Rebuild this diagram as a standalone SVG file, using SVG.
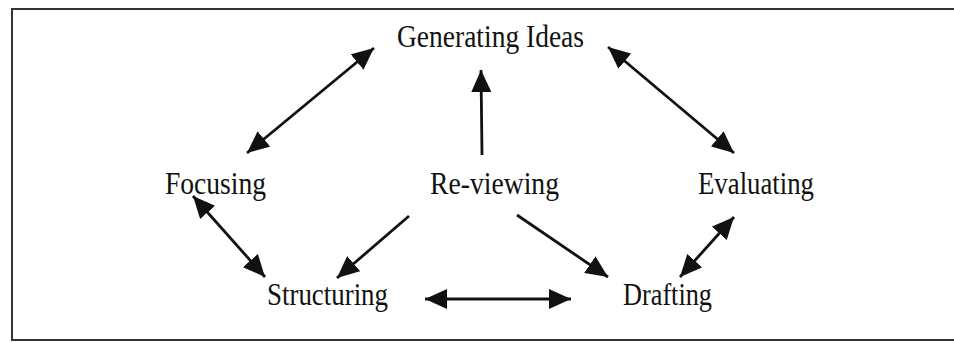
<svg xmlns="http://www.w3.org/2000/svg" width="954" height="343" viewBox="0 0 954 343">
<style>
.lbl{font-family:"Liberation Serif","Times New Roman",serif;font-size:31px;fill:#111;}
.edge{stroke:#111;stroke-width:2.8;fill:none;}
.frame{stroke:#333;stroke-width:2;fill:none;}
</style>
<defs>
<marker id="ah" markerUnits="userSpaceOnUse" markerWidth="24" markerHeight="20" refX="22" refY="10" orient="auto-start-reverse" viewBox="0 0 24 20">
<path d="M0,0 L22,10 L0,20 Z" fill="#111"/>
</marker>
</defs>
<path class="frame" d="M954,9 L12,9 L12,340 L954,340"/>
<g id="generating"><text class="lbl" x="397" y="47" textLength="187" lengthAdjust="spacingAndGlyphs">Generating Ideas</text></g>
<g id="focusing"><text class="lbl" x="165" y="194" textLength="101" lengthAdjust="spacingAndGlyphs">Focusing</text></g>
<g id="reviewing"><text class="lbl" x="430" y="194" textLength="129" lengthAdjust="spacingAndGlyphs">Re-viewing</text></g>
<g id="evaluating"><text class="lbl" x="698" y="194" textLength="116" lengthAdjust="spacingAndGlyphs">Evaluating</text></g>
<g id="structuring"><text class="lbl" x="267" y="305" textLength="121" lengthAdjust="spacingAndGlyphs">Structuring</text></g>
<g id="drafting"><text class="lbl" x="623" y="305" textLength="89" lengthAdjust="spacingAndGlyphs">Drafting</text></g>
<g id="connectors">
<line class="edge" x1="247" y1="153" x2="374" y2="48" marker-start="url(#ah)" marker-end="url(#ah)"/>
<line class="edge" x1="482" y1="155" x2="481" y2="70" marker-end="url(#ah)"/>
<line class="edge" x1="608" y1="47" x2="734" y2="153" marker-start="url(#ah)" marker-end="url(#ah)"/>
<line class="edge" x1="193" y1="196" x2="265" y2="277" marker-start="url(#ah)" marker-end="url(#ah)"/>
<line class="edge" x1="409" y1="216" x2="337" y2="278" marker-end="url(#ah)"/>
<line class="edge" x1="517" y1="215" x2="608" y2="277" marker-end="url(#ah)"/>
<line class="edge" x1="680" y1="277" x2="734" y2="217" marker-start="url(#ah)" marker-end="url(#ah)"/>
<line class="edge" x1="425" y1="299" x2="571" y2="299" marker-start="url(#ah)" marker-end="url(#ah)"/>
</g>
</svg>
